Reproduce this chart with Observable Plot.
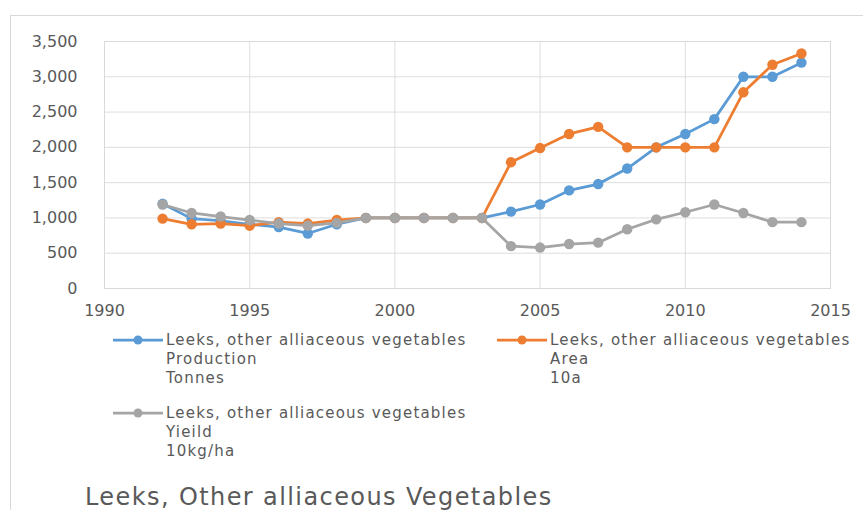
<!DOCTYPE html>
<html>
<head>
<meta charset="utf-8">
<script src="https://cdn.jsdelivr.net/npm/d3@7"></script>
<script src="https://cdn.jsdelivr.net/npm/@observablehq/plot@0.6"></script>
<style>
  html, body { margin: 0; padding: 0; background: #fff; }
  #wrap { position: relative; width: 863px; height: 510px; overflow: hidden; font-family: "DejaVu Sans", sans-serif; color: #595959; }
  #border { position: absolute; left: 10px; top: 15px; right: 0; bottom: 0; border-top: 1px solid #d9d9d9; border-left: 1px solid #d9d9d9; }
  #chart { position: absolute; left: 0; top: 0; }
  .item { position: absolute; display: flex; align-items: flex-start; }
  .item svg { flex: none; margin-top: 1px; }
  .item .txt { font-size: 15px; line-height: 19px; letter-spacing: 1.2px; white-space: pre; }
  #title { position: absolute; left: 85px; top: 483px; font-size: 24px; letter-spacing: 1.4px; white-space: nowrap; color: #595959; }
</style>
</head>
<body>
<div id="wrap">
  <div id="border"></div>
  <div id="chart"></div>
  <div id="legend"></div>
  <div id="title">Leeks, Other alliaceous Vegetables</div>
</div>
<script>
// Leeks and other alliaceous vegetables, 1992–2014
const years = [1992, 1993, 1994, 1995, 1996, 1997, 1998, 1999, 2000, 2001, 2002, 2003,
               2004, 2005, 2006, 2007, 2008, 2009, 2010, 2011, 2012, 2013, 2014];
const production = [1200, 990, 960, 910, 870, 780, 910, 1000, 1000, 1000, 1000, 1000,
                    1090, 1190, 1390, 1480, 1700, 2000, 2190, 2400, 3000, 3000, 3200];
const area = [990, 910, 920, 890, 940, 920, 970, 1000, 1000, 1000, 1000, 1000,
              1790, 1990, 2190, 2290, 2000, 2000, 2000, 2000, 2780, 3170, 3330];
const yieldValues = [1190, 1070, 1020, 970, 920, 890, 930, 1000, 1000, 1000, 1000, 1000,
                     600, 580, 630, 650, 840, 980, 1080, 1190, 1070, 940, 940];

const seriesNames = ["Production", "Area", "Yieild"];
const seriesUnits = ["Tonnes", "10a", "10kg/ha"];
const seriesColors = ["#5b9bd5", "#ed7d31", "#a5a5a5"];
const seriesValues = [production, area, yieldValues];
const xTicks = [1990, 1995, 2000, 2005, 2010, 2015];
const yTicks = [0, 500, 1000, 1500, 2000, 2500, 3000, 3500];

const rows = seriesNames.flatMap((name, i) =>
  years.map((year, j) => ({series: name, year, value: seriesValues[i][j]})));

const colorScale = {domain: seriesNames, range: seriesColors};

const chart = Plot.plot({
  width: 863,
  height: 320,
  marginLeft: 104,
  marginRight: 33,
  marginTop: 41,
  marginBottom: 32,
  style: {fontFamily: "DejaVu Sans, sans-serif", fontSize: "16px", color: "#595959", background: "transparent"},
  x: {domain: [1990, 2015], ticks: xTicks, tickFormat: d => String(d), tickSize: 0, tickPadding: 16, label: null},
  y: {domain: [0, 3500], ticks: yTicks, tickFormat: d3.format(","), tickSize: 0, tickPadding: 27, label: null},
  color: colorScale,
  marks: [
    Plot.gridY(yTicks, {stroke: "#dedede", strokeOpacity: 1}),
    Plot.gridX(xTicks, {stroke: "#dedede", strokeOpacity: 1}),
    Plot.frame({stroke: "#d9d9d9"}),
    Plot.axisX({ticks: xTicks, tickFormat: d => String(d), tickSize: 0, tickPadding: 16}),
    Plot.axisY({ticks: yTicks, tickFormat: d3.format(","), tickSize: 0, tickPadding: 27}),
    Plot.line(rows, {x: "year", y: "value", z: "series", stroke: "series", strokeWidth: 2.75}),
    Plot.dot(rows, {x: "year", y: "value", fill: "series", r: 5.2})
  ]
});
document.getElementById("chart").appendChild(chart);

// Legend: three entries, two on the first row and one below
const legend = document.getElementById("legend");
const legendPos = [[113, 331], [497, 331], [113, 404]];
seriesNames.forEach((name, i) => {
  const item = document.createElement("div");
  item.className = "item";
  item.style.left = legendPos[i][0] + "px";
  item.style.top = legendPos[i][1] + "px";
  item.innerHTML =
    `<svg width="53" height="16"><line x1="0" x2="50" y1="8" y2="8" stroke="${seriesColors[i]}" stroke-width="2.75"/>` +
    `<circle cx="25" cy="8" r="4.5" fill="${seriesColors[i]}"/></svg>` +
    `<div class="txt">Leeks, other alliaceous vegetables\n${name}\n${seriesUnits[i]}</div>`;
  legend.appendChild(item);
});
</script>
</body>
</html>
